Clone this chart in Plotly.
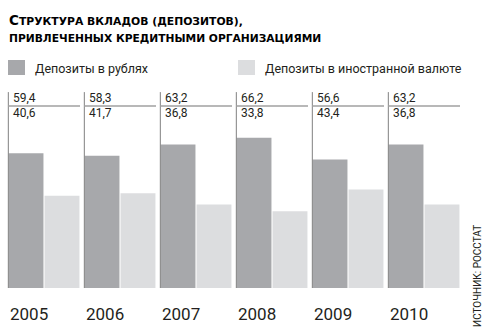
import plotly.graph_objects as go

years = [2005, 2006, 2007, 2008, 2009, 2010]
rub = [59.4, 58.3, 63.2, 66.2, 56.6, 63.2]
fx = [40.6, 41.7, 36.8, 33.8, 43.4, 36.8]
series_names = ["Депозиты в рублях", "Депозиты в иностранной валюте"]
title_line1 = "Структура вкладов (депозитов),"
title_line2 = "привлеченных кредитными организациями"
source = "ИСТОЧНИК: РОССТАТ"

DARK = "#a7a8ab"
LIGHT = "#dcdddf"
W, H = 500, 330
ML, MR, MT, MB = 6, 38, 61, 42
PW, PH = W - ML - MR, H - MT - MB
BARGAP = 0.053


def px_x(px):
    return (px - ML) / PW


def px_y(py):
    return (H - MB - py) / PH


def smallcaps(s, big):
    out = []
    for w in s.split(" "):
        first, rest = w[0], w[1:]
        if first.isupper():
            out.append(f"<span style='font-size:{big}px'>{first}</span>{rest.upper()}")
        else:
            out.append(w.upper())
    return " ".join(out)


def fmt(v):
    return f"{v:.1f}".replace(".", ",")


fig = go.Figure()
fig.add_trace(go.Bar(x=years, y=rub, name=series_names[0], marker=dict(color=DARK, line=dict(width=0))))
fig.add_trace(go.Bar(x=years, y=fx, name=series_names[1], marker=dict(color=LIGHT, line=dict(width=0))))

shapes = []
annotations = []
for yr, a, b in zip(years, rub, fx):
    left = yr - 0.5 + BARGAP / 2
    right = yr + 0.5 - BARGAP / 2
    shapes.append(dict(type="line", xref="x", yref="y", x0=left + 0.004, x1=left + 0.004, y0=0, y1=86.3,
                       line=dict(color="#808080", width=1)))
    shapes.append(dict(type="line", xref="x", yref="y", x0=left, x1=right, y0=80.2, y1=80.2,
                       line=dict(color="#a0a0a0", width=1.5)))
    annotations.append(dict(x=left, y=83.8, xref="x", yref="y", text=fmt(a), showarrow=False,
                            xanchor="left", yanchor="middle", xshift=3,
                            font=dict(family="Roboto", size=12, color="#231f20")))
    annotations.append(dict(x=left, y=77.0, xref="x", yref="y", text=fmt(b), showarrow=False,
                            xanchor="left", yanchor="middle", xshift=3,
                            font=dict(family="Roboto", size=12, color="#231f20")))
    annotations.append(dict(x=left, y=0, xref="x", yref="y", text=str(yr), showarrow=False,
                            xanchor="left", yanchor="top", yshift=-14,
                            font=dict(family="Roboto", size=17, color="#231f20")))

# legend
for (x0, x1), color, name, tx in [((8, 25), DARK, series_names[0], 33), ((238, 255), LIGHT, series_names[1], 263)]:
    shapes.append(dict(type="rect", xref="paper", yref="paper", x0=px_x(x0), x1=px_x(x1),
                       y0=px_y(75), y1=px_y(60), fillcolor=color, line=dict(width=0)))
    annotations.append(dict(x=px_x(tx), y=px_y(68), xref="paper", yref="paper", text=name, showarrow=False,
                            xanchor="left", yanchor="middle",
                            font=dict(family="Roboto", size=12.5, color="#231f20")))

# title
for line, cy, big, small in [(title_line1, 20, 13.5, 10.8), (title_line2, 38, 10.7, 10.7)]:
    annotations.append(dict(x=px_x(7), y=px_y(cy), xref="paper", yref="paper", text=smallcaps(line, big),
                            showarrow=False, xanchor="left", yanchor="middle",
                            font=dict(family="DejaVu Sans", size=small, color="#000000", weight="bold")))

annotations.append(dict(x=px_x(477), y=px_y(276), xref="paper", yref="paper", text=source, showarrow=False,
                        textangle=-90, xanchor="center", yanchor="middle",
                        font=dict(family="Liberation Sans Narrow, Roboto", size=10, color="#231f20")))

fig.update_layout(
    width=W, height=H,
    margin=dict(l=ML, r=MR, t=MT, b=MB, pad=0),
    paper_bgcolor="white", plot_bgcolor="white",
    barmode="group", bargap=BARGAP, bargroupgap=0.03,
    showlegend=False,
    xaxis=dict(range=[years[0] - 0.5, years[-1] + 0.5], showticklabels=False, showgrid=False,
               zeroline=False, showline=False, ticks=""),
    yaxis=dict(range=[0, 100], showticklabels=False, showgrid=False, zeroline=False, showline=False),
    shapes=shapes, annotations=annotations,
)

fig.write_html("out.html")
